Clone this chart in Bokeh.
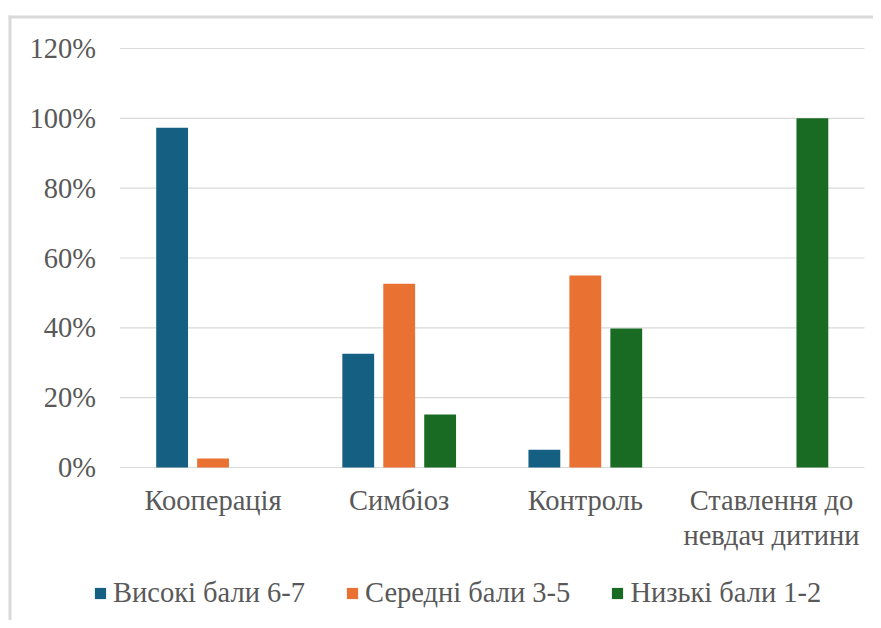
import numpy as np
from bokeh.plotting import figure
from bokeh.models import (ColumnDataSource, Range1d, FixedTicker, NumeralTickFormatter,
                          Legend, LegendItem, BoxAnnotation)
from bokeh.embed import file_html
from bokeh.resources import INLINE

categories = ["Кооперація", "Симбіоз", "Контроль", "Ставлення до\nневдач дитини"]
series_names = ["Високі бали 6-7", "Середні бали 3-5", "Низькі бали 1-2"]
high = [0.973, 0.326, 0.051, 0.0]
mid = [0.026, 0.526, 0.55, 0.0]
low = [0.0, 0.152, 0.398, 1.0]
y_ticks = [0, 0.2, 0.4, 0.6, 0.8, 1.0, 1.2]
colors = ["#156082", "#E97132", "#196B24"]

FONT = "Liberation Serif"
TXT = "#595959"
FS = "28.5px"

# canvas layout (pixels inside the canvas)
W, H = 873, 620
PLOT_L, PLOT_R = 119.5, 864      # category band left/right
Y0_PX, YTOP_PX = 467, 48         # pixel rows for 0 and 1.2
n = len(categories)
ppx = (PLOT_R - PLOT_L) / n
ppy = (Y0_PX - YTOP_PX) / 1.2
x_start = -PLOT_L / ppx
x_end = (W - PLOT_L) / ppx
y_end = 1.2 + YTOP_PX / ppy
y_start = -(H - Y0_PX) / ppy

centers = np.arange(n) + 0.5
src = ColumnDataSource(dict(
    x_high=centers - 0.22, x_mid=centers, x_low=centers + 0.22,
    high=high, mid=mid, low=low))

p = figure(x_range=Range1d(x_start, x_end), y_range=Range1d(y_start, y_end),
           width=W, height=H, output_backend="svg", toolbar_location=None,
           min_border=0, min_border_left=0, min_border_right=0,
           min_border_top=0, min_border_bottom=0)
p.outline_line_color = None
p.background_fill_color = "white"
p.border_fill_color = "white"
p.xgrid.grid_line_color = None
p.ygrid.grid_line_color = None

# chart-area border (top and left edges)
def ycoord(px):
    return y_end - px / ppy
def xcoord(px):
    return x_start + px / ppx
p.add_layout(BoxAnnotation(left=xcoord(8), top=ycoord(15), bottom=ycoord(18),
                           fill_color="#d9d9d9", fill_alpha=1, line_color=None,
                           level="underlay"))
p.add_layout(BoxAnnotation(left=xcoord(8), right=xcoord(11), top=ycoord(15),
                           fill_color="#d9d9d9", fill_alpha=1, line_color=None,
                           level="underlay"))

# gridlines spanning the category band
p.segment(x0=[0] * len(y_ticks), x1=[n] * len(y_ticks), y0=y_ticks, y1=y_ticks,
          line_color="#d9d9d9", line_width=1.2)

renderers = []
for key, col in zip(["high", "mid", "low"], colors):
    r = p.vbar(x="x_" + key, top=key, width=0.171, bottom=0, source=src,
               fill_color=col, line_color=None)
    renderers.append(r)

yax = p.yaxis[0]
yax.fixed_location = 0
yax.ticker = FixedTicker(ticks=y_ticks)
yax.formatter = NumeralTickFormatter(format="0%")
yax.major_label_standoff = 24

xax = p.xaxis[0]
xax.fixed_location = 0
xax.ticker = FixedTicker(ticks=list(centers))
xax.major_label_overrides = {float(c): lab for c, lab in zip(centers, categories)}
xax.major_label_standoff = 17
xax.major_label_text_line_height = 1.13

for ax in [xax, yax]:
    ax.axis_line_color = None
    ax.major_tick_line_color = None
    ax.minor_tick_line_color = None
    ax.major_tick_out = 0
    ax.major_tick_in = 0
    ax.minor_tick_out = 0
    ax.minor_tick_in = 0
    ax.major_label_text_font = FONT
    ax.major_label_text_font_size = FS
    ax.major_label_text_color = TXT

legend = Legend(items=[LegendItem(label=nm, renderers=[r]) for nm, r in zip(series_names, renderers)],
                orientation="horizontal", location=(93, 11),
                label_text_font=FONT, label_text_font_size=FS, label_text_color=TXT,
                glyph_width=14, glyph_height=14, label_standoff=6, spacing=40,
                padding=0, margin=0, border_line_color=None, background_fill_alpha=0)
p.add_layout(legend, "center")

open("out.html", "w").write(file_html(p, INLINE))
